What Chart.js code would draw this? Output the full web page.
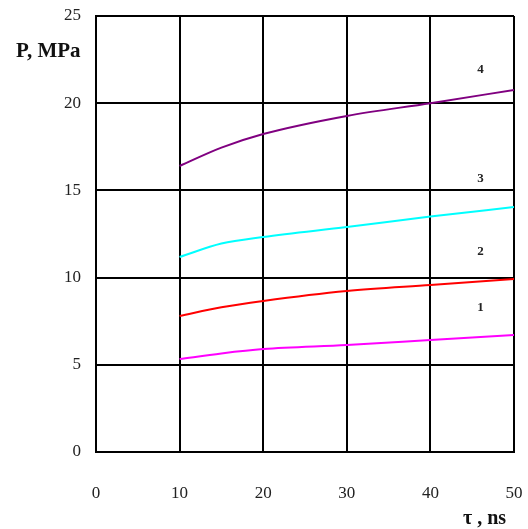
<!DOCTYPE html>
<html>
<head>
<meta charset="utf-8">
<script src="https://cdn.jsdelivr.net/npm/chart.js@4/dist/chart.umd.min.js"></script>
<style>
  html,body{margin:0;padding:0;background:#fff;}
  #wrap{position:relative;width:528px;height:529px;}
  .lbl{position:absolute;font-family:"Liberation Serif","Times New Roman",serif;font-weight:bold;font-size:21px;line-height:24px;color:#111;white-space:nowrap;}
</style>
</head>
<body>
<div id="wrap">
  <canvas id="c" width="528" height="529"></canvas>
  <div class="lbl" style="left:16px;top:38px;">P, MPa</div>
  <div class="lbl" style="left:463px;top:505px;font-size:20px;">τ , ns</div>
</div>
<script>
// tau, ns
const tau = [10, 15, 20, 30, 40, 50];
// pressure curves, MPa
const curve1 = [5.33, 5.65, 5.9, 6.13, 6.42, 6.71];
const curve2 = [7.8, 8.3, 8.66, 9.23, 9.58, 9.92];
const curve3 = [11.18, 11.95, 12.33, 12.9, 13.5, 14.05];
const curve4 = [16.4, 17.45, 18.23, 19.27, 20.0, 20.76];
const curveNames = ['1', '2', '3', '4'];
const curveColors = ['#ff00ff', '#ff0000', '#00ffff', '#800080'];
// where the curve numbers sit (x, y in data units)
const nameX = [46, 46, 46, 46];
const nameY = [8.3, 11.5, 15.7, 21.9];

const allCurves = [curve1, curve2, curve3, curve4];

const datasets = allCurves.map((vals, i) => ({
  label: curveNames[i],
  data: tau.map((t, j) => ({x: t, y: vals[j]})),
  borderColor: curveColors[i],
  borderWidth: 2,
  pointRadius: 0,
  fill: false,
  cubicInterpolationMode: 'monotone'
}));

const curveLabels = {
  id: 'curveLabels',
  afterDatasetsDraw(chart){
    const {ctx, scales:{x, y}} = chart;
    ctx.save();
    ctx.font = 'bold 13px "Liberation Serif", serif';
    ctx.fillStyle = '#222';
    ctx.textAlign = 'center';
    ctx.textBaseline = 'middle';
    curveNames.forEach((n, i) => ctx.fillText(n, x.getPixelForValue(nameX[i]), y.getPixelForValue(nameY[i])));
    ctx.restore();
  }
};

const tickFont = {family: '"Liberation Serif", serif', size: 17};

new Chart(document.getElementById('c'), {
  type: 'line',
  data: {datasets},
  plugins: [curveLabels],
  options: {
    responsive: false,
    animation: false,
    layout: {padding: {top: 16, right: 14, left: 0, bottom: 0}},
    plugins: {legend: {display: false}, tooltip: {enabled: false}},
    scales: {
      x: {
        type: 'linear', min: 0, max: 50,
        ticks: {stepSize: 10, color: '#222', padding: 31, font: tickFont, maxRotation: 0},
        grid: {color: '#000', lineWidth: 2, drawTicks: false},
        border: {color: '#000', width: 2},
        afterFit(s){ s.height = 77; s.paddingLeft = 0; s.paddingRight = 0; }
      },
      y: {
        min: 0, max: 25,
        ticks: {stepSize: 5, color: '#222', padding: 15, font: tickFont},
        grid: {color: '#000', lineWidth: 2, drawTicks: false},
        border: {color: '#000', width: 2},
        afterFit(s){ s.width = 96; s.paddingTop = 0; s.paddingBottom = 0; }
      }
    }
  }
});
</script>
</body>
</html>
